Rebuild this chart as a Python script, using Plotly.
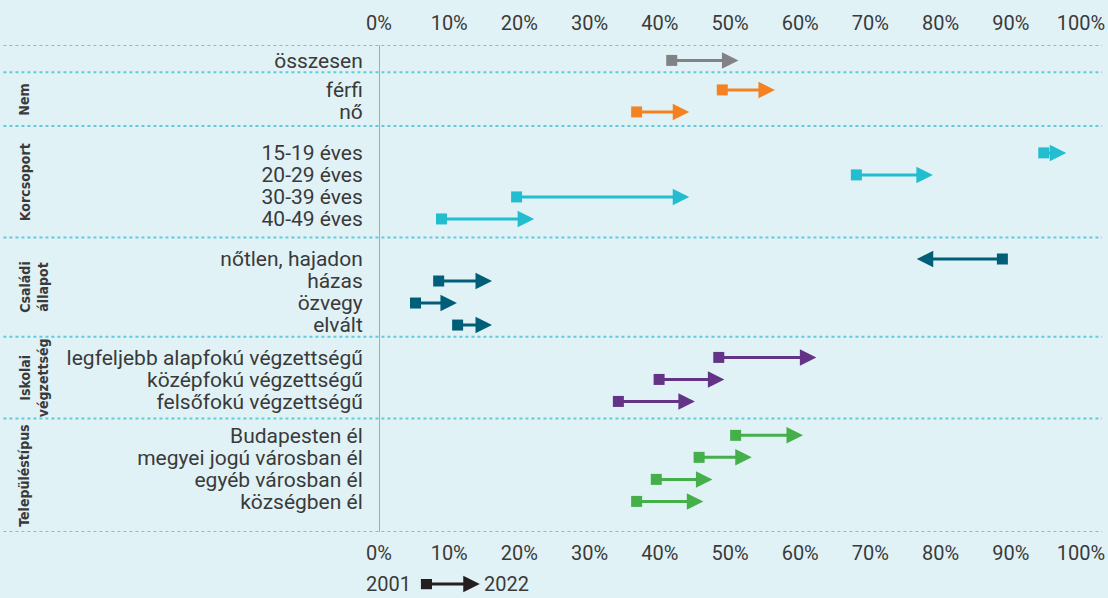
import plotly.graph_objects as go

# Data (share, %), 2001 -> 2022
group_names = ["", "Nem", "Korcsoport", "Családi<br>állapot", "Iskolai<br>végzettség", "Településtípus"]
group_sizes = [1, 2, 4, 4, 3, 4]
categories = [
    "összesen",
    "férfi", "nő",
    "15-19 éves", "20-29 éves", "30-39 éves", "40-49 éves",
    "nőtlen, hajadon", "házas", "özvegy", "elvált",
    "legfeljebb alapfokú végzettségű", "középfokú végzettségű", "felsőfokú végzettségű",
    "Budapesten él", "megyei jogú városban él", "egyéb városban él", "községben él",
]
v2001 = [41.7, 48.9, 36.7, 94.7, 68.0, 19.6, 8.9, 88.8, 8.5, 5.2, 11.2,
         48.4, 39.9, 34.1, 50.8, 45.6, 39.5, 36.7]
v2022 = [51.2, 56.4, 44.2, 97.9, 78.9, 44.2, 22.1, 76.6, 16.1, 11.1, 16.1,
         62.3, 49.2, 45.0, 60.4, 53.1, 47.5, 46.2]
x_ticks = list(range(0, 101, 10))

# Layout helpers
group_colors = ["#808285", "#F58220", "#22BDCE", "#005E78", "#633387", "#45AF4A"]
pad_top = [0.70, 0.80, 1.22, 0.98, 0.94, 0.77]
pad_bot = [0.54, 0.64, 0.84, 0.53, 0.77, 1.39]
BG = "#E1F2F6"
TXT = "#3A3A3A"
SEP = "#5FCCDC"
FONT = "Roboto, Noto Sans, sans-serif"

ypos, colors, seps, group_mid = [], [], [0.0], []
cur = 0.0
for g, n in enumerate(group_sizes):
    start = cur
    y = cur + pad_top[g]
    for k in range(n):
        ypos.append(y + k)
        colors.append(group_colors[g])
    cur = y + (n - 1) + pad_bot[g]
    seps.append(cur)
    group_mid.append((start + cur) / 2)
total = cur

fig = go.Figure()

# arrows 2001 -> 2022
for i in range(len(categories)):
    fig.add_annotation(
        x=v2022[i], y=ypos[i], ax=v2001[i], ay=ypos[i],
        xref="x", yref="y", axref="x", ayref="y",
        text="", showarrow=True, arrowhead=2, arrowsize=1.1,
        arrowwidth=3, arrowcolor=colors[i], standoff=0,
    )

fig.add_trace(go.Scatter(
    x=v2001, y=ypos, mode="markers",
    marker=dict(symbol="square", size=11, color=colors, line=dict(width=0)),
    showlegend=False, hoverinfo="skip",
))
# dummy trace for the top axis
fig.add_trace(go.Scatter(x=[0, 100], y=[0, 0], xaxis="x2", mode="none",
                         showlegend=False, hoverinfo="skip"))

# dotted separators across the full width
for s in seps:
    fig.add_shape(type="line", xref="paper", yref="y", x0=-0.535, x1=1.03,
                  y0=s, y1=s, line=dict(color=SEP, width=2, dash="dot"), layer="below")
# zero line
fig.add_shape(type="line", xref="x", yref="y", x0=0, x1=0, y0=0, y1=total,
              line=dict(color="#22BDCE", width=1.5), layer="below")

# group titles (rotated)
for g, name in enumerate(group_names):
    if not name:
        continue
    two = "<br>" in name
    fig.add_annotation(
        x=-0.505 if not two else -0.492, y=group_mid[g], xref="paper", yref="y",
        xanchor="center", yanchor="middle",
        text="<b>" + name + "</b>", showarrow=False, textangle=-90,
        font=dict(family="Liberation Sans Narrow, DejaVu Sans Condensed, sans-serif",
                  size=14, color=TXT),
        align="center",
    )

# legend at the bottom
leg_y = -0.107
fig.add_annotation(x=0.014, y=leg_y, xref="paper", yref="paper", text="2001",
                   xanchor="center", yanchor="middle",
                   showarrow=False, font=dict(family=FONT, size=20, color=TXT))
fig.add_annotation(x=0.181, y=leg_y, xref="paper", yref="paper", text="2022",
                   xanchor="center", yanchor="middle",
                   showarrow=False, font=dict(family=FONT, size=20, color=TXT))
fig.add_annotation(x=0.1435, y=leg_y, xref="paper", yref="paper", text="",
                   ax=-51, ay=0, showarrow=True, arrowhead=2, arrowsize=1.1,
                   arrowwidth=3, arrowcolor="#231F20", standoff=0)
fig.add_shape(type="rect", xref="paper", yref="paper",
              x0=0.0597, x1=0.0755, y0=leg_y + 0.0105, y1=leg_y - 0.0105,
              fillcolor="#231F20", line=dict(width=0))

axis_font = dict(family=FONT, size=20, color=TXT)
common_x = dict(range=[0, 100], tickvals=x_ticks, ticktext=[f"{t}%" for t in x_ticks],
                showgrid=False, zeroline=False, showline=False, automargin=False,
                ticks="outside", tickcolor="rgba(0,0,0,0)",
                tickfont=axis_font, fixedrange=True)
fig.update_layout(
    width=1108, height=598,
    margin=dict(l=379, r=27, t=45, b=66),
    paper_bgcolor=BG, plot_bgcolor=BG,
    showlegend=False,
    xaxis=dict(**common_x, ticklen=3),
    xaxis2=dict(**common_x, ticklen=6, overlaying="x", side="top", anchor="y"),
    yaxis=dict(range=[total, 0], tickvals=ypos, ticktext=categories,
               showgrid=False, zeroline=False, showline=False, automargin=False,
               ticks="outside", ticklen=11, tickcolor="rgba(0,0,0,0)",
               tickfont=dict(family=FONT, size=21, color=TXT), fixedrange=True),
)

fig.write_html("out.html", config={"displayModeBar": False},
               post_script="document.body.style.margin='0';")
